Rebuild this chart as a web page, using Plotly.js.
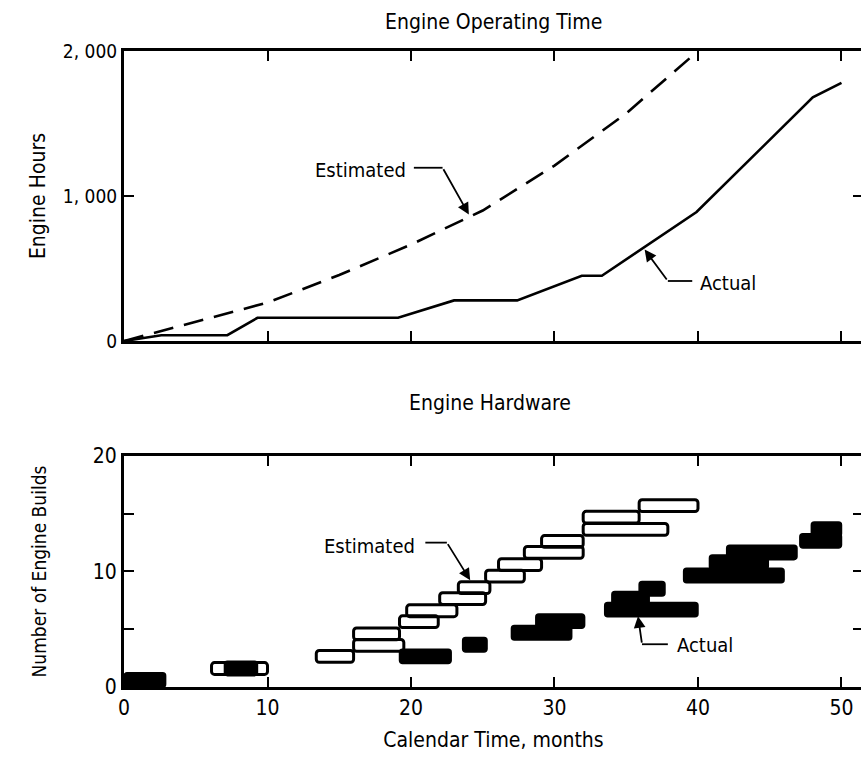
<!DOCTYPE html>
<html>
<head>
<meta charset="utf-8">
<script src="https://cdn.plot.ly/plotly-3.0.1.min.js"></script>
<style>
html,body{margin:0;padding:0;overflow:hidden;background:#fff;}
#chart{width:868px;height:758px;}
</style>
</head>
<body>
<div id="chart"></div>
<script>
// ---- Engine Operating Time (hours vs calendar months) ----
const estTimeMonths = [0, 5, 10, 15, 20, 25, 30, 35, 40];
const estHours      = [0, 135, 265, 455, 665, 900, 1210, 1570, 2000];
const actTimeMonths = [0, 2.6, 7.2, 9.3, 19.1, 23.0, 27.4, 31.9, 33.3, 39.9, 48.0, 50.0];
const actHours      = [0, 40, 40, 160, 160, 280, 280, 450, 450, 890, 1680, 1780];

// ---- Engine Hardware (engine builds: start month, end month, build level) ----
const estBuildStart = [6.1, 13.4, 16.0, 16.0, 19.2, 19.7, 22.0, 23.3, 25.2, 26.1, 27.9, 29.1, 32.0, 32.0, 35.9];
const estBuildEnd   = [10.0, 16.0, 19.5, 19.2, 21.9, 23.2, 25.2, 25.5, 27.9, 29.1, 32.0, 32.0, 37.9, 35.9, 40.0];
const estBuildLevel = [1.6, 2.65, 3.6, 4.6, 5.65, 6.6, 7.65, 8.6, 9.6, 10.6, 11.65, 12.6, 13.65, 14.7, 15.7];

const actBuildStart = [0, 7.0, 19.2, 23.6, 27.0, 28.7, 33.5, 34.0, 35.9, 39.0, 40.8, 42.0, 47.1, 47.9];
const actBuildEnd   = [2.9, 9.3, 22.8, 25.3, 31.2, 32.1, 40.0, 36.6, 37.7, 46.0, 44.9, 46.9, 50.0, 50.0];
const actBuildLevel = [0.6, 1.6, 2.65, 3.65, 4.7, 5.7, 6.7, 7.65, 8.5, 9.65, 10.8, 11.65, 12.65, 13.65];

// ---- Tick labels ----
const hourTickVals = [0, 1000, 2000];
const hourTickText = ['0', '1, 000', '2, 000'];
const buildTickVals = [0, 5, 10, 15, 20];
const buildTickText = ['0', '', '10', '', '20'];
const monthTickVals = [0, 10, 20, 30, 40, 50];
const monthTickText = ['0', '10', '20', '30', '40', '50'];

const FONT = 'DejaVu Sans Condensed, DejaVu Sans, sans-serif';
const f = (s) => ({family: FONT, size: s, color: '#000'});

const traces = [
  {x: estTimeMonths, y: estHours, type: 'scatter', mode: 'lines', xaxis: 'x', yaxis: 'y',
   line: {color: '#000', width: 2.6, dash: '20px,11px'}, hoverinfo: 'skip'},
  {x: actTimeMonths, y: actHours, type: 'scatter', mode: 'lines', xaxis: 'x', yaxis: 'y',
   line: {color: '#000', width: 2.6}, hoverinfo: 'skip'},
  {type: 'bar', orientation: 'h', xaxis: 'x2', yaxis: 'y2',
   base: actBuildStart, x: actBuildEnd.map((e, i) => e - actBuildStart[i]), y: actBuildLevel,
   width: 1.25, marker: {color: '#000', line: {color: '#000', width: 1.5}, cornerradius: 3}, hoverinfo: 'skip'},
  {type: 'bar', orientation: 'h', xaxis: 'x2', yaxis: 'y2',
   base: estBuildStart, x: estBuildEnd.map((e, i) => e - estBuildStart[i]), y: estBuildLevel,
   width: 1.02, marker: {color: 'rgba(0,0,0,0)', line: {color: '#000', width: 3}, cornerradius: 3}, hoverinfo: 'skip'}
];

const axisStyle = {
  showline: true, linewidth: 3, linecolor: '#000', mirror: 'ticks',
  ticks: 'inside', ticklen: 10, tickwidth: 2, tickcolor: '#000',
  showgrid: false, zeroline: false,
  tickfont: f(20)
};

const leader = (xr, yr, x0, y0, x1, y1) => ({type: 'line', xref: xr, yref: yr, x0: x0, y0: y0, x1: x1, y1: y1,
  line: {color: '#000', width: 1.8}});
const arrow = (xr, yr, fromX, fromY, toX, toY) => ({xref: xr, yref: yr, axref: xr, ayref: yr,
  x: toX, y: toY, ax: fromX, ay: fromY, text: '', showarrow: true,
  arrowhead: 2, arrowsize: 1.3, arrowwidth: 1.8, arrowcolor: '#000', standoff: 2});
const label = (xr, yr, x, y, t, anchor) => ({xref: xr, yref: yr, x: x, y: y, text: t, showarrow: false,
  xanchor: anchor, yanchor: 'middle', font: f(20)});

const layout = {
  width: 868, height: 758,
  margin: {l: 124, r: 5, t: 0, b: 0},
  paper_bgcolor: '#fff', plot_bgcolor: '#fff',
  showlegend: false, barmode: 'overlay',
  xaxis: Object.assign({}, axisStyle, {domain: [0, 1], anchor: 'y', range: [0, 51.5],
    tickvals: [10, 20, 30, 40, 50], showticklabels: false}),
  yaxis: Object.assign({}, axisStyle, {domain: [0.5501, 0.9327], anchor: 'x', range: [0, 2000],
    tickvals: hourTickVals, ticktext: hourTickText, tickfont: f(19),
    title: {text: 'Engine Hours', font: f(21), standoff: 12}}),
  xaxis2: Object.assign({}, axisStyle, {domain: [0, 1], anchor: 'y2', range: [0, 51.5],
    tickvals: monthTickVals, ticktext: monthTickText, tickfont: f(21),
    title: {text: 'Calendar Time, months', font: f(21), standoff: 14}}),
  yaxis2: Object.assign({}, axisStyle, {domain: [0.0937, 0.3984], anchor: 'x2', range: [0, 20],
    tickvals: buildTickVals, ticktext: buildTickText, tickfont: f(21),
    title: {text: 'Number of Engine Builds', font: f(19), standoff: 42}}),
  shapes: [
    leader('x', 'y', 20.2, 1195, 22.2, 1195),
    leader('x', 'y', 39.6, 414, 37.9, 414),
    leader('x2', 'y2', 21.0, 12.5, 22.5, 12.5),
    leader('x2', 'y2', 37.9, 3.7, 36.1, 3.7)
  ],
  annotations: [
    {xref: 'paper', yref: 'paper', x: 0.5, y: 0.971, text: 'Engine Operating Time', showarrow: false,
     xanchor: 'center', yanchor: 'middle', font: f(21)},
    {xref: 'paper', yref: 'paper', x: 0.495, y: 0.468, text: 'Engine Hardware', showarrow: false,
     xanchor: 'center', yanchor: 'middle', font: f(21)},
    label('x', 'y', 19.8, 1180, 'Estimated', 'right'),
    arrow('x', 'y', 22.2, 1195, 24.1, 860),
    label('x', 'y', 40.0, 400, 'Actual', 'left'),
    arrow('x', 'y', 37.9, 414, 36.2, 642),
    label('x2', 'y2', 20.4, 12.2, 'Estimated', 'right'),
    arrow('x2', 'y2', 22.5, 12.5, 24.2, 9.1),
    label('x2', 'y2', 38.4, 3.65, 'Actual', 'left'),
    arrow('x2', 'y2', 36.1, 3.7, 35.8, 6.3)
  ]
};

Plotly.newPlot('chart', traces, layout, {staticPlot: true, displayModeBar: false});
</script>
</body>
</html>
